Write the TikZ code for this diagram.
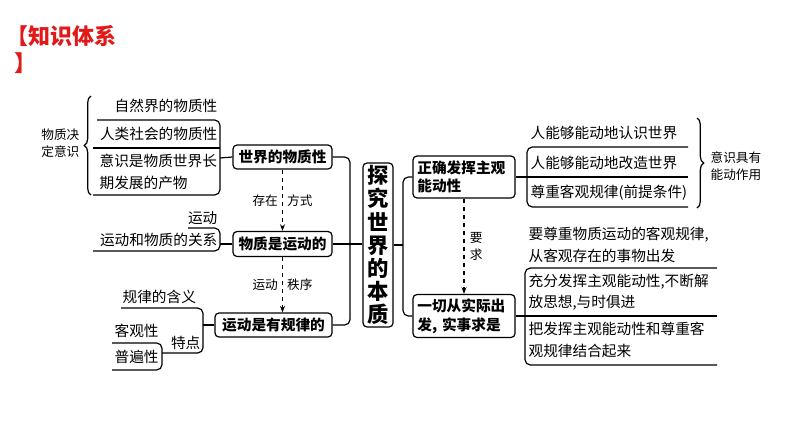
\documentclass[tikz,border=0pt]{standalone}
\usepackage{fontspec}
\setmainfont{Noto Sans CJK SC}
\usetikzlibrary{arrows.meta,decorations.pathreplacing}
\definecolor{tred}{RGB}{225,25,25}
\begin{document}
\begin{tikzpicture}[x=0.75pt,y=-0.75pt,line width=0.9pt,
  box/.style={draw,rounded corners=3pt,font=\bfseries\fontsize{11}{14}\selectfont,inner sep=1pt,align=left},
  item/.style={inner sep=0pt,font=\fontsize{11}{16}\selectfont,align=left},
  small/.style={inner sep=0pt,font=\fontsize{9.5}{13}\selectfont,align=left},
  brk/.style={rounded corners=4pt},
  dasharrow/.style={dashed,-{Stealth[length=5pt]}}]
\useasboundingbox (0,0) rectangle (794,447);
\fill[white] (0,0) rectangle (794,447);
% title
\node[anchor=west,inner sep=0pt,text=tred,font=\bfseries\fontsize{16.5}{18}\selectfont] (t1) at (6,36) {【知识体系};
\node[anchor=west,inner sep=0pt,text=tred,font=\bfseries\fontsize{16.5}{18}\selectfont] (t2) at (14,63) {】};
% central boxes
\node[box,minimum width=74.25pt,minimum height=18pt] (wm) at (282.5,157) {世界的物质性};
\node[box,minimum width=74.25pt,minimum height=18.75pt] (mr) at (282.5,244) {物质是运动的};
\node[box,minimum width=87.75pt,minimum height=18pt] (yg) at (273.5,325) {运动是有规律的};
\node[box,minimum width=22.5pt,minimum height=123pt,align=center,font=\bfseries\fontsize{16}{17.3}\selectfont] (tj) at (378,245) {探\\究\\世\\界\\的\\本\\质};
\node[box,minimum width=76.5pt,minimum height=31.5pt,text width=70pt] (zq) at (464,177) {正确发挥主观\\能动性};
\node[box,minimum width=76.5pt,minimum height=32.25pt,text width=70pt] (yq) at (464,316) {一切从实际出\\发, 实事求是};
% dashed arrows
\draw[dasharrow] (wm.south) -- (mr.north) node[midway,left,small,inner sep=3pt] {存在} node[midway,right,small,inner sep=3pt] {方式};
\draw[dasharrow] (mr.south) -- (yg.north-|mr.south) node[midway,left,small,inner sep=3pt] {运动} node[midway,right,small,inner sep=3pt] {秩序};
\draw[dasharrow] (zq.south) -- (yq.north) node[midway,right,small,inner sep=4pt,align=center] {要\\求};
% middle connectors
\draw[brk] (wm.east) -- (350,157) -- (350,325) -- (yg.east);
\draw (mr.east) -- (tj.west|-mr.east);
\draw[brk] (zq.west) -- (403,177) -- (403,316) -- (yq.west);
\draw (tj.east) -- (403,245);
% upper left group
\node[item,anchor=east] (a1) at (218,106) {自然界的物质性};
\node[item,anchor=east] (a2) at (218,134) {人类社会的物质性};
\node[item,anchor=west] (a3) at (99,172) {意识是物质世界长\\期发展的产物};
\draw[brk] (97,120) -- (220,120) -- (220,195) -- (93,195);
\draw (93,148) -- (220,148);
\draw (220,158) -- (wm.west);
\draw[decorate,decoration={brace,amplitude=5pt}] (91,195) -- (91,96);
\node[small,align=left,anchor=east] (a0) at (80,143) {物质决\\定意识};
% middle left
\node[item,anchor=east] (b1) at (218,218) {运动};
\node[item,anchor=east] (b2) at (218,240) {运动和物质的关系};
\draw[brk] (188,228) -- (220,228) -- (220,251) -- (93,251);
\draw (220,244) -- (mr.west);
% lower left
\node[item,anchor=west] (c1) at (122,297) {规律的含义};
\node[item,anchor=east] (c2) at (201,343) {特点};
\node[item,anchor=west] (c3) at (114,331) {客观性};
\node[item,anchor=west] (c4) at (114,357) {普遍性};
\draw[brk] (121,308) -- (203,308) -- (203,353) -- (162,353);
\draw (203,325) -- (yg.west);
\draw[brk] (112,343) -- (162,343) -- (162,370) -- (112,370);
% upper right
\node[item,anchor=west] (d1) at (530,133) {人能够能动地认识世界};
\node[item,anchor=west] (d2) at (530,163) {人能够能动地改造世界};
\node[item,anchor=west] (d3) at (530,193) {尊重客观规律(前提条件)};
\draw[brk] (688,147) -- (527,147) -- (527,207) -- (688,207);
\draw (zq.east) -- (688,177);
\draw[decorate,decoration={brace,amplitude=5pt}] (697,118) -- (697,208);
\node[small,anchor=west] (d0) at (710,166) {意识具有\\能动作用};
% lower right
\node[item,anchor=west] (e1) at (528,245) {要尊重物质运动的客观规律,\\从客观存在的事物出发};
\node[item,anchor=west] (e2) at (528,292) {充分发挥主观能动性,不断解\\放思想,与时俱进};
\node[item,anchor=west] (e3) at (528,340) {把发挥主观能动性和尊重客\\观规律结合起来};
\draw[brk] (717,268) -- (525,268) -- (525,365) -- (717,365);
\draw (yq.east) -- (717,316);
\end{tikzpicture}
\end{document}
